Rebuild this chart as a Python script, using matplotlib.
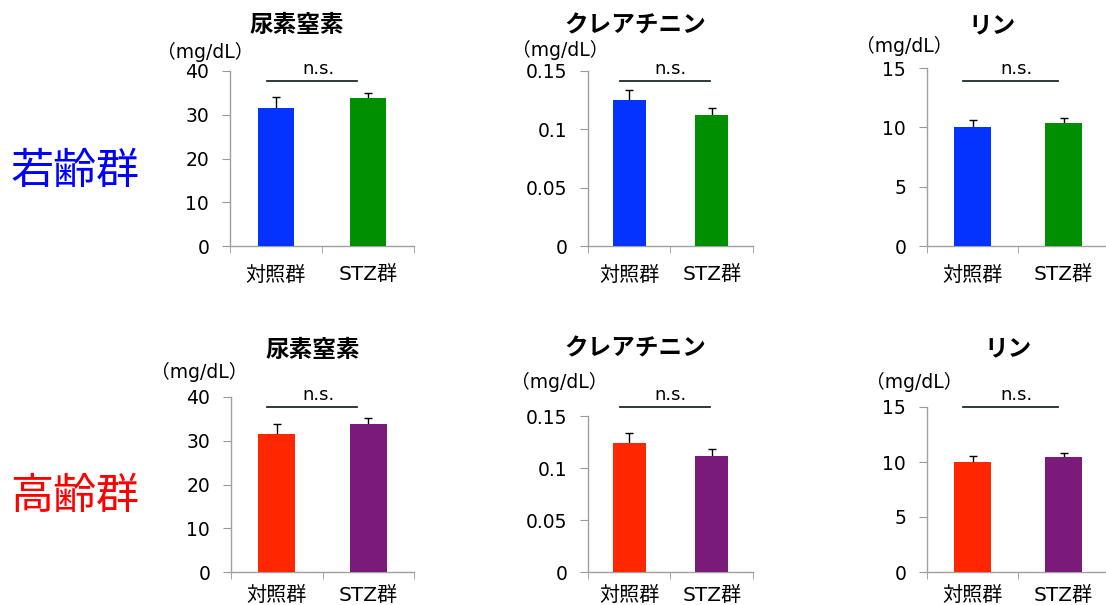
import matplotlib
matplotlib.use("Agg")
import matplotlib.pyplot as plt

plt.rcParams['font.family'] = ['DejaVu Sans', 'Noto Sans CJK JP']

# data
groups = ['対照群', 'STZ群']
titles = ['尿素窒素', 'クレアチニン', 'リン']
units = '（mg/dL）'
ymax = [40, 0.15, 15]
yticks = [[0, 10, 20, 30, 40], [0, 0.05, 0.1, 0.15], [0, 5, 10, 15]]
ytick_labels = [['0', '10', '20', '30', '40'], ['0', '0.05', '0.1', '0.15'], ['0', '5', '10', '15']]

young_means = [[31.5, 33.8], [0.125, 0.112], [10.0, 10.35]]
young_errs = [[2.5, 1.2], [0.009, 0.006], [0.6, 0.45]]
old_means = [[31.5, 33.8], [0.124, 0.1115], [9.97, 10.43]]
old_errs = [[2.4, 1.3], [0.010, 0.0065], [0.6, 0.4]]

row_names = ['若齢群', '高齢群']
row_colors = ['#0000FF', '#FF0000']
bar_colors = [['#0433FF', '#008F00'], ['#FF2600', '#7A1A7A']]

W, H = 1106, 605
fig = plt.figure(figsize=(W / 100, H / 100), dpi=100)
cjk = ['Noto Sans CJK JP', 'DejaVu Sans']


def px_axes(x0, y0, x1, y1):
    """axes from pixel box (top-left origin)"""
    return fig.add_axes([x0 / W, (H - y1) / H, (x1 - x0) / W, (y1 - y0) / H])


def px_text(x, y, s, **kw):
    fig.text(x / W, (H - y) / H, s, **kw)


# pixel boxes for each panel: (x0, ytop, x1, ybottom)
boxes = [
    [(230, 71, 414, 246), (588, 71, 753, 246), (927, 68, 1109, 246)],
    [(231, 397, 414, 572), (588, 416, 753, 572), (927, 407, 1109, 572)],
]
title_pos = [[(297, 25), (635, 25), (992, 25)], [(313, 350), (635, 348), (1008, 348)]]
unit_pos = [[(157, 52), (512, 50), (856, 46)], [(151, 372), (511, 382), (866, 382)]]
ns_pos = [[(267, 357, 81), (620, 710, 81), (963, 1058, 81)],
          [(267, 357, 407), (620, 710, 407), (963, 1058, 407)]]

all_means = [young_means, old_means]
all_errs = [young_errs, old_errs]

for r in range(2):
    for c in range(3):
        x0, y0, x1, y1 = boxes[r][c]
        ax = px_axes(x0, y0, x1, y1)
        ax.bar([0, 1], all_means[r][c], width=0.4, color=bar_colors[r], zorder=3)
        ax.errorbar([0, 1], all_means[r][c], yerr=all_errs[r][c], fmt='none',
                    ecolor='black', elinewidth=1, capsize=3, capthick=1, zorder=2)
        ax.set_xlim(-0.5, 1.5)
        ax.set_ylim(0, ymax[c])
        ax.set_yticks(yticks[c])
        ax.set_yticklabels(ytick_labels[c], fontsize=13.5)
        ax.set_xticks([0, 1])
        ax.set_xticklabels(groups, fontsize=14.5)
        ax.set_xticks([-0.5, 0.5, 1.5], minor=True)
        ax.tick_params(axis='x', which='major', length=0, pad=14 if r == 0 else 10)
        ax.tick_params(axis='x', which='minor', length=5, color='#999999', direction='out')
        ax.tick_params(axis='y', length=6, color='#999999', direction='out', pad=9)
        for s in ['top', 'right']:
            ax.spines[s].set_visible(False)
        for s in ['left', 'bottom']:
            ax.spines[s].set_color('#A0A0A0')
            ax.spines[s].set_linewidth(1)

        tx, ty = title_pos[r][c]
        px_text(tx, ty, titles[c], fontsize=17, fontweight='bold', ha='center', va='center',
                family=cjk)
        ux, uy = unit_pos[r][c]
        px_text(ux, uy, units, fontsize=13.5, ha='left', va='center')

        # n.s. bracket
        lx0, lx1, ly = ns_pos[r][c]
        fig.add_artist(plt.Line2D([lx0 / W, lx1 / W], [(H - ly) / H] * 2,
                                  color='#1a2a30', linewidth=1.3))
        px_text((lx0 + lx1) / 2 + 6, ly - 12, 'n.s.', fontsize=13, ha='center', va='center')

    ry = [172, 497][r]
    px_text(75, ry, row_names[r], fontsize=31, color=row_colors[r], ha='center', va='center',
            family=cjk)

fig.savefig('out.png', dpi=100)
